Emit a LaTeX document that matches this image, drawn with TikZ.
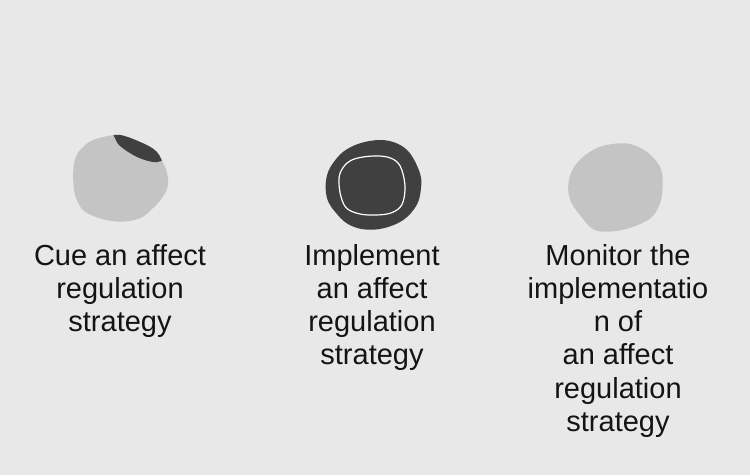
\documentclass[tikz,border=0pt]{standalone}
\usepackage{fontspec}
\setmainfont{Liberation Sans}
\definecolor{bgc}{HTML}{E8E8E8}
\definecolor{lightblob}{HTML}{C4C4C4}
\definecolor{darkblob}{HTML}{404040}
\definecolor{txt}{HTML}{141414}
\begin{document}
\begin{tikzpicture}[x=1pt,y=-1pt,
  label text/.style={font=\fontsize{29}{33.2}\selectfont, text=txt, align=center, anchor=north, inner sep=0pt}]
\useasboundingbox (0,0) rectangle (750,475);
\fill[bgc] (0,0) rectangle (750,475);

% blob 1: light with dark cap
\def\blobone{plot[smooth cycle, tension=0.6] coordinates {(114.3,135) (93,140) (81.7,148.3) (76,156.7) (73.3,170) (74,190) (78.3,203) (85,211.7) (100,218.3) (120,221.7) (140,218.3) (153,208) (163,196.7) (168,185) (166.7,171.7) (161.7,160) (156.7,151.7) (146.7,145) (126.7,136.7)}}
\fill[lightblob] \blobone;
\begin{scope}
  \clip \blobone;
  \fill[darkblob] plot[smooth, tension=0.6] coordinates {(112,132) (114.5,137) (120,146) (137,157) (153,162) (161,161) (165,157)} -- (180,140) -- (140,110) -- (105,120) -- cycle;
\end{scope}

% blob 2: dark with white ring
\fill[darkblob] plot[smooth cycle, tension=0.6] coordinates {(380,140) (360,143.3) (343.3,151.7) (331.7,165) (326.7,176.7) (325.7,190) (328.3,201.7) (335,211.7) (346.7,223.3) (363.3,229.3) (383.3,228.3) (403.3,220) (416.7,205) (421,188.3) (420,173.3) (410,153.3) (396.7,143.3)};
\draw[white, line width=1.2pt] plot[smooth cycle, tension=0.6] coordinates {(373.3,156) (356.7,158.3) (346.7,163.3) (340,173.3) (339,183.3) (341,196.7) (346.7,208.3) (360,214) (376.7,215) (391.7,212.7) (401.7,205) (405,190) (403.3,175) (398.3,163.3) (388.3,157.3)};

% blob 3: light
\fill[lightblob] plot[smooth cycle, tension=0.6] coordinates {(620,143.3) (600,146.7) (583.3,156.7) (573.3,168.3) (569,180) (568.3,191.7) (571.7,203.3) (580,215) (591.7,228.3) (605,231.7) (625,229.3) (645,221.7) (655,213.3) (661,200) (662.7,185) (661.7,171.7) (656.7,161.7) (646.7,151.7) (633.3,145)};

% labels
\node[label text] (cue) at (120,244) {Cue an affect\\regulation\\strategy};
\node[label text] (impl) at (372,244) {Implement\\an affect\\regulation\\strategy};
\node[label text] (mon) at (618,244) {Monitor the\\implementatio\\n of\\an affect\\regulation\\strategy};
\end{tikzpicture}
\end{document}
